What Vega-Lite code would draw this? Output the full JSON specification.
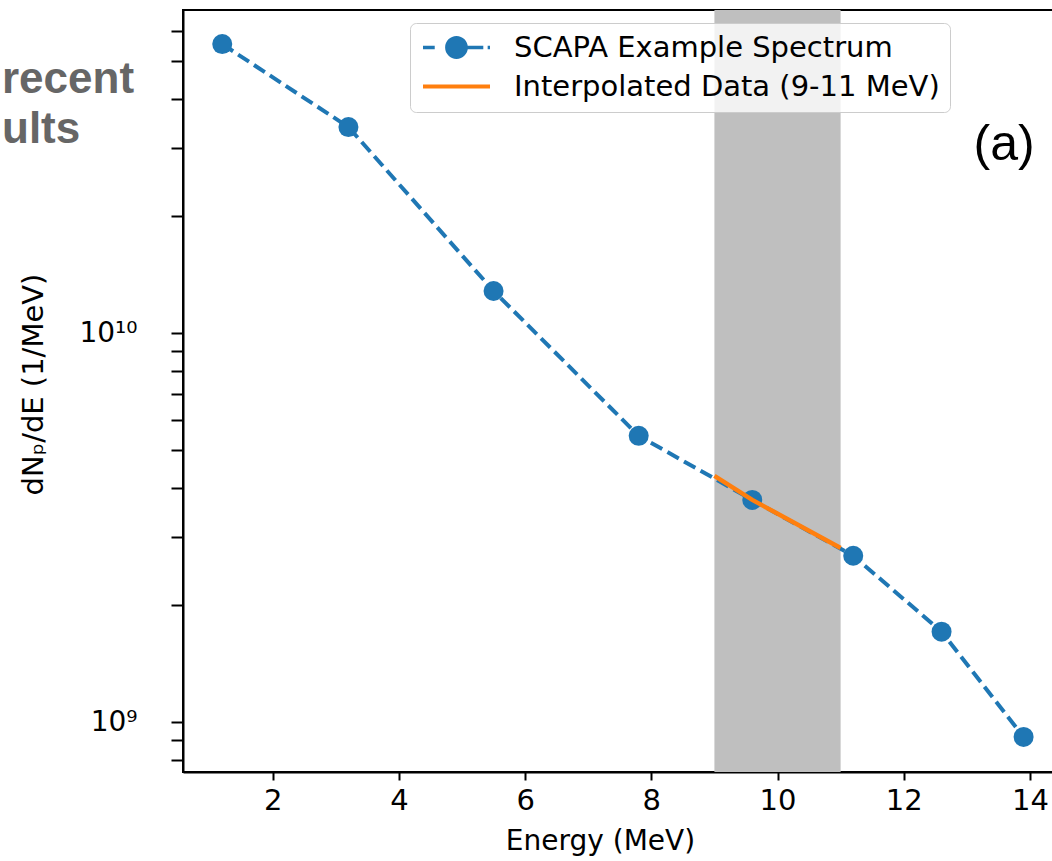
{
  "$schema": "https://vega.github.io/schema/vega-lite/v6.json",
  "width": 870,
  "height": 762,
  "autosize": "none",
  "padding": {"left": 183, "top": 10, "right": 0, "bottom": 89},
  "background": "white",
  "config": {
    "view": {"stroke": "black", "strokeWidth": 2},
    "font": "DejaVu Sans"
  },
  "title": {
    "text": "recent",
    "subtitle": "ults",
    "anchor": "start",
    "frame": "group",
    "orient": "top",
    "dx": -181,
    "offset": -142,
    "font": "Liberation Sans",
    "fontSize": 44,
    "fontWeight": "bold",
    "color": "#666666",
    "subtitleFont": "Liberation Sans",
    "subtitleFontSize": 44,
    "subtitleFontWeight": "bold",
    "subtitleColor": "#666666",
    "subtitlePadding": 6
  },
  "datasets": {
    "band": [{"start": 9, "end": 11}],
    "spectrum": [
      {"energy": 1.2, "value": 55400000000, "series": "SCAPA Example Spectrum"},
      {"energy": 3.2, "value": 33900000000, "series": "SCAPA Example Spectrum"},
      {"energy": 5.5, "value": 12850000000, "series": "SCAPA Example Spectrum"},
      {"energy": 7.8, "value": 5450000000, "series": "SCAPA Example Spectrum"},
      {"energy": 9.6, "value": 3730000000, "series": "SCAPA Example Spectrum"},
      {"energy": 11.2, "value": 2680000000, "series": "SCAPA Example Spectrum"},
      {"energy": 12.6, "value": 1710000000, "series": "SCAPA Example Spectrum"},
      {"energy": 13.9, "value": 917000000, "series": "SCAPA Example Spectrum"}
    ],
    "interp": [
      {"energy": 9.0, "value": 4300000000, "series": "Interpolated Data (9-11 MeV)"},
      {"energy": 9.6, "value": 3730000000, "series": "Interpolated Data (9-11 MeV)"},
      {"energy": 11.0, "value": 2806000000, "series": "Interpolated Data (9-11 MeV)"}
    ],
    "annot": [{"energy": 13.59, "value": 27900000000, "label": "(a)"}]
  },
  "layer": [
    {
      "data": {"name": "band"},
      "mark": {"type": "rect", "color": "#bfbfbf", "opacity": 1},
      "encoding": {
        "x": {
          "field": "start",
          "type": "quantitative",
          "title": "Energy (MeV)",
          "scale": {"type": "linear", "domain": [0.578, 14.366], "nice": false, "zero": false},
          "axis": {
            "values": [2, 4, 6, 8, 10, 12, 14],
            "format": "d",
            "grid": false,
            "domain": true,
            "domainColor": "black",
            "domainWidth": 2,
            "ticks": true,
            "tickColor": "black",
            "tickWidth": 2,
            "tickSize": 8,
            "labelFont": "DejaVu Sans",
            "labelFontSize": 29,
            "labelColor": "black",
            "labelPadding": 6,
            "labelFlush": false,
            "labelOverlap": false,
            "titleFont": "DejaVu Sans",
            "titleFontSize": 28,
            "titleFontWeight": "normal",
            "titleColor": "black",
            "titleX": 417,
            "titlePadding": 12
          }
        },
        "x2": {"field": "end"}
      }
    },
    {
      "data": {"name": "spectrum"},
      "mark": {"type": "line", "strokeDash": [13, 6], "strokeWidth": 4},
      "encoding": {
        "x": {"field": "energy", "type": "quantitative", "title": "Energy (MeV)"},
        "y": {
          "field": "value",
          "type": "quantitative",
          "title": "dNₚ/dE (1/MeV)",
          "scale": {"type": "log", "domain": [745000000, 67800000000], "nice": false},
          "axis": {
            "values": [800000000, 900000000, 1000000000, 2000000000, 3000000000, 4000000000, 5000000000, 6000000000, 7000000000, 8000000000, 9000000000, 10000000000, 20000000000, 30000000000, 40000000000, 50000000000, 60000000000],
            "labelExpr": "datum.value == 1000000000 ? '10⁹' : (datum.value == 10000000000 ? '10¹⁰' : '')",
            "grid": false,
            "domain": true,
            "domainColor": "black",
            "domainWidth": 2,
            "tickColor": "black",
            "tickWidth": 2,
            "tickSize": 12,
            "labelFont": "DejaVu Sans",
            "labelFontSize": 28,
            "labelColor": "black",
            "labelPadding": 34,
            "labelFlush": false,
            "labelOverlap": false,
            "titleFont": "DejaVu Sans",
            "titleFontSize": 29,
            "titleFontWeight": "normal",
            "titleColor": "black",
            "titlePadding": 30,
            "titleY": 374,
            "encode": {
              "ticks": {
                "update": {
                  "x2": {"signal": "(datum.value == 1000000000 || datum.value == 10000000000) ? -12 : -7"}
                }
              }
            }
          }
        },
        "color": {
          "field": "series",
          "type": "nominal",
          "scale": {
            "domain": ["SCAPA Example Spectrum", "Interpolated Data (9-11 MeV)"],
            "range": ["#1f77b4", "#ff7f0e"]
          },
          "legend": {
            "title": null,
            "orient": "none",
            "legendX": 227,
            "legendY": 13,
            "padding": 10,
            "rowPadding": 9,
            "labelFont": "DejaVu Sans",
            "labelFontSize": 29,
            "labelColor": "black",
            "labelOffset": 43,
            "labelLimit": 1000,
            "symbolType": "stroke",
            "symbolSize": 4489,
            "symbolStrokeWidth": 4,
            "symbolOffset": 22,
            "strokeColor": "#cccccc",
            "fillColor": "rgba(255,255,255,0.8)",
            "cornerRadius": 6,
            "encode": {
              "symbols": {
                "update": {
                  "shape": {"signal": "datum.value === 'SCAPA Example Spectrum' ? 'M-1,-0.055L-0.65,-0.055L-0.65,0.055L-1,0.055Z M0.3,-0.055L0.8,-0.055L0.8,0.055L0.3,0.055Z M0.93,-0.055L1,-0.055L1,0.055L0.93,0.055Z M-0.34,0A0.34,0.34,0,1,1,0.34,0A0.34,0.34,0,1,1,-0.34,0Z' : 'stroke'"},
                  "fill": {"signal": "datum.value === 'SCAPA Example Spectrum' ? '#1f77b4' : 'transparent'"},
                  "stroke": {"signal": "datum.value === 'SCAPA Example Spectrum' ? '#1f77b4' : '#ff7f0e'"},
                  "strokeWidth": {"signal": "datum.value === 'SCAPA Example Spectrum' ? 0 : 4"},
                  "strokeDash": {"value": []},
                  "opacity": {"value": 1}
                }
              }
            }
          }
        }
      }
    },
    {
      "data": {"name": "spectrum"},
      "mark": {"type": "point", "filled": true, "shape": "circle", "size": 400, "color": "#1f77b4", "opacity": 1},
      "encoding": {
        "x": {"field": "energy", "type": "quantitative", "title": "Energy (MeV)"},
        "y": {"field": "value", "type": "quantitative", "title": "dNₚ/dE (1/MeV)"}
      }
    },
    {
      "data": {"name": "interp"},
      "mark": {"type": "line", "strokeWidth": 4.5},
      "encoding": {
        "x": {"field": "energy", "type": "quantitative", "title": "Energy (MeV)"},
        "y": {"field": "value", "type": "quantitative", "title": "dNₚ/dE (1/MeV)"},
        "color": {"field": "series", "type": "nominal"}
      }
    },
    {
      "data": {"name": "annot"},
      "mark": {"type": "text", "font": "Liberation Sans", "fontSize": 50, "align": "center", "baseline": "alphabetic", "color": "black"},
      "encoding": {
        "x": {"field": "energy", "type": "quantitative", "title": "Energy (MeV)"},
        "y": {"field": "value", "type": "quantitative", "title": "dNₚ/dE (1/MeV)"},
        "text": {"field": "label"}
      }
    }
  ]
}
